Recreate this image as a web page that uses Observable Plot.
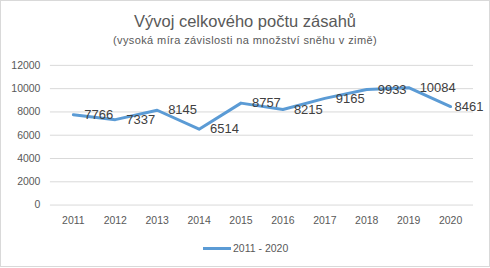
<!DOCTYPE html>
<html>
<head>
<meta charset="utf-8">
<script src="https://cdn.jsdelivr.net/npm/d3@7"></script>
<script src="https://cdn.jsdelivr.net/npm/@observablehq/plot@0.6"></script>
<style>
  body { margin: 0; background: #fff; }
  #wrap { position: relative; width: 490px; height: 267px; box-sizing: border-box; border: 1px solid #d9d9d9; font-family: "Liberation Sans", Arial, sans-serif; overflow: hidden; }
  #title { position: absolute; left: 0; width: 100%; top: 11px; text-align: center; font-size: 16.5px; color: #595959; }
  #subtitle { position: absolute; left: 0; width: 100%; top: 33px; text-align: center; font-size: 11px; letter-spacing: 0.4px; color: #595959; }
  #chart { position: absolute; left: -1px; top: -1px; }
  #legend { position: absolute; left: 202px; top: 241px; font-size: 10.5px; color: #595959; display: flex; align-items: center; }
  #legend span.sw { display: inline-block; width: 28px; height: 3px; background: #5B9BD5; margin-right: 2px; }
</style>
</head>
<body>
<div id="wrap">
  <div id="chart"></div>
  <div id="title">Vývoj celkového počtu zásahů</div>
  <div id="subtitle">(vysoká míra závislosti na množství sněhu v zimě)</div>
  <div id="legend"><span class="sw"></span><span>2011 - 2020</span></div>
</div>
<script>
const years = ["2011","2012","2013","2014","2015","2016","2017","2018","2019","2020"];
const values = [7766, 7337, 8145, 6514, 8757, 8215, 9165, 9933, 10084, 8461];
const yTicks = [0, 2000, 4000, 6000, 8000, 10000, 12000];
const seriesName = "2011 - 2020";

const data = years.map((y, i) => ({year: y, value: values[i]}));
const last = data.length - 1;

const chart = Plot.plot({
  width: 490,
  height: 268,
  marginLeft: 50,
  marginRight: 16,
  marginTop: 65,
  marginBottom: 63,
  style: { fontFamily: "Liberation Sans, Arial, sans-serif", background: "transparent", overflow: "visible" },
  x: { type: "point", domain: years, padding: 0.5 },
  y: { domain: [0, 12000] },
  marks: [
    Plot.gridY(yTicks, { stroke: "#d9d9d9", strokeOpacity: 1 }),
    Plot.axisY(yTicks, { tickSize: 0, tickPadding: 10, fontSize: 10.5, fill: "#595959", label: null, tickFormat: d => String(d) }),
    Plot.axisX({ tickSize: 0, tickPadding: 12, fontSize: 10.5, fill: "#595959", label: null }),
    Plot.line(data, { x: "year", y: "value", stroke: "#5B9BD5", strokeWidth: 3, strokeLinejoin: "round" }),
    Plot.text(data.filter((d, i) => i !== last), { x: "year", y: "value", text: d => String(d.value), textAnchor: "start", dx: 11, fontSize: 13, fill: "#404040" }),
    Plot.text(data.filter((d, i) => i === last), { x: "year", y: "value", text: d => String(d.value), textAnchor: "start", dx: 4, fontSize: 13, fill: "#404040" })
  ]
});
document.getElementById("chart").appendChild(chart);
</script>
</body>
</html>
